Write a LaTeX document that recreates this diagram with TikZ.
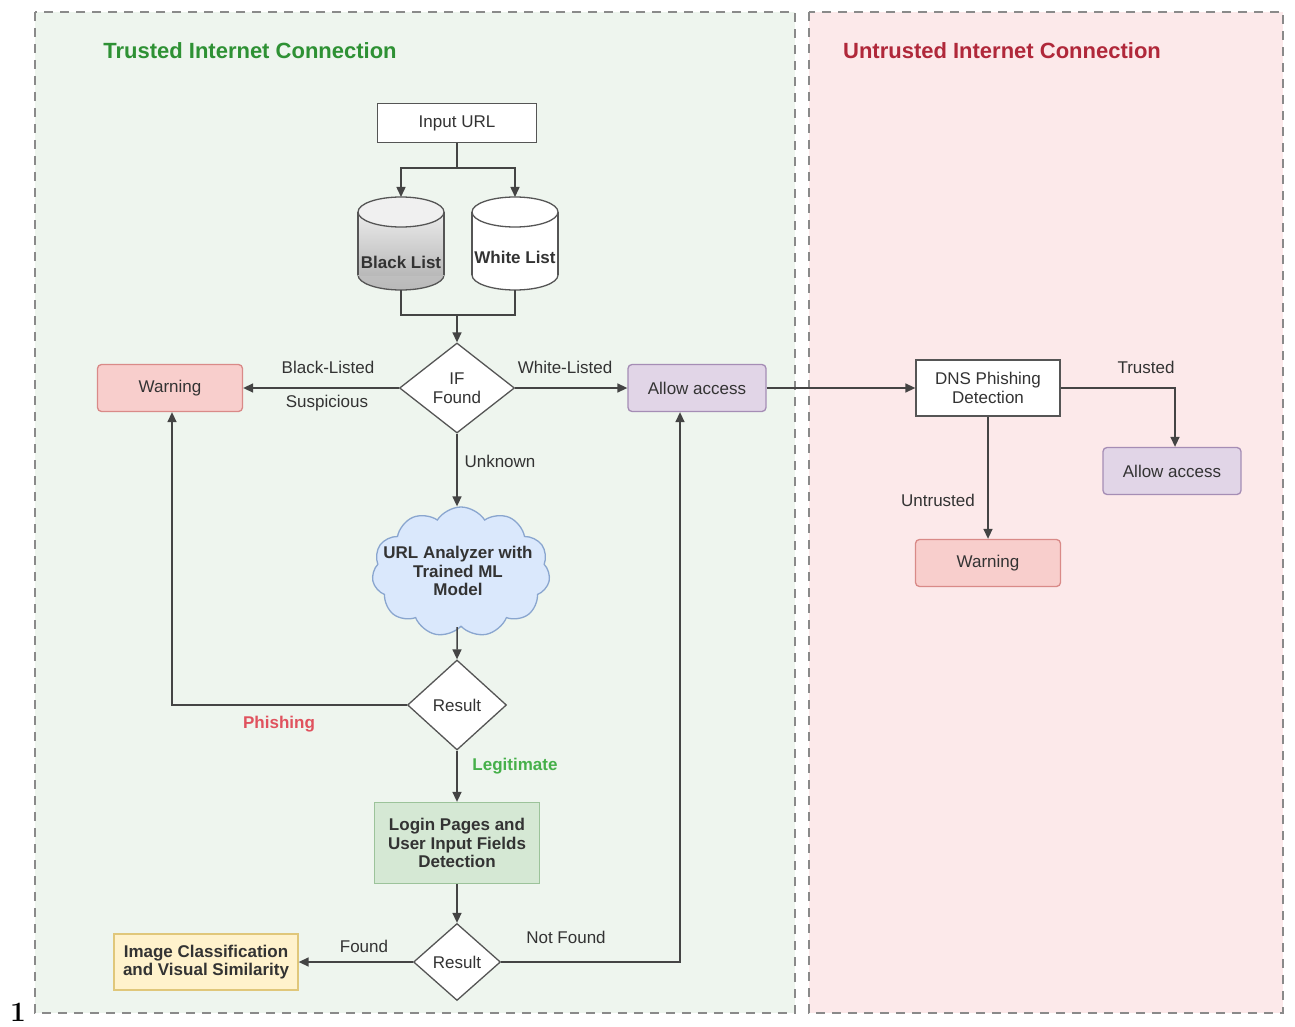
\documentclass[tikz,border=0pt]{standalone}
\usepackage{fontspec}
\newfontfamily\arialf{Liberation Sans}
\usetikzlibrary{arrows.meta,shapes.geometric,shapes.symbols}
\newcommand\nf{\arialf\fontsize{17}{18.5}\selectfont}
\definecolor{txt}{HTML}{333333}
\definecolor{ln}{HTML}{444444}
\definecolor{bd}{HTML}{555555}
\definecolor{greenbg}{HTML}{EEF5EE}
\definecolor{redbg}{HTML}{FCE9EA}
\definecolor{regbd}{HTML}{8A8A8A}
\definecolor{warnf}{HTML}{F8CECC}
\definecolor{warnb}{HTML}{D98A88}
\definecolor{aaf}{HTML}{E1D5E7}
\definecolor{aab}{HTML}{A58DB5}
\definecolor{logf}{HTML}{D5E8D4}
\definecolor{logb}{HTML}{9CC39A}
\definecolor{imgf}{HTML}{FFF2CC}
\definecolor{imgb}{HTML}{E0C77A}
\definecolor{cldf}{HTML}{DAE8FC}
\definecolor{cldb}{HTML}{8AA6CF}
\definecolor{tgreen}{HTML}{2E9134}
\definecolor{tred}{HTML}{B0283A}
\definecolor{phred}{HTML}{E0525E}
\definecolor{lggreen}{HTML}{46B04A}
\begin{document}
\begin{tikzpicture}[x=1pt,y=-1pt,
  every node/.style={font=\nf, text=txt},
  line/.style={draw=ln, line width=1.5pt},
  arr/.style={line, -{Triangle[length=10pt,width=9pt]}},
  region/.style={draw=regbd, line width=1.6pt, dash pattern=on 9pt off 7pt},
  whitebox/.style={draw=bd, line width=1.3pt, fill=white, align=center, inner sep=2pt},
  warnbox/.style={draw=warnb, line width=1.3pt, fill=warnf, rounded corners=4pt, align=center, minimum width=145, minimum height=47},
  aabox/.style={draw=aab, line width=1.3pt, fill=aaf, rounded corners=4pt, align=center, minimum width=138, minimum height=47},
  dia/.style={diamond, draw=bd, line width=1.3pt, fill=white, align=center, inner sep=0pt},
  lbl/.style={font=\nf, text=txt},
  cyl/.style={draw=bd, line width=1.3pt}
]
\useasboundingbox (0,0) rectangle (1295,1027);
\fill[white] (0,0) rectangle (1295,1027);
% regions
\draw[region, fill=greenbg] (35,12) rectangle (795,1013);
\draw[region, fill=redbg] (809,12) rectangle (1283,1013);
\node[font=\arialf\bfseries\fontsize{22}{24}\selectfont, text=tgreen] (t1) at (250,51) {Trusted Internet Connection};
\node[font=\arialf\bfseries\fontsize{22}{24}\selectfont, text=tred] (t2) at (1002,51) {Untrusted Internet Connection};

% input url
\node[whitebox, minimum width=159, minimum height=39] (url) at (457,123) {Input URL};

% black list cylinder
\fill[bottom color=gray!55, top color=gray!45] (401,275) ellipse[x radius=43, y radius=15];
\draw[cyl] (401,275) ellipse[x radius=43, y radius=15];
\shade[top color=gray!15, bottom color=gray!55] (358,212) rectangle (444,275);
\draw[cyl] (358,212) -- (358,275);
\draw[cyl] (444,212) -- (444,275);
\draw[cyl, fill=gray!12] (401,212) ellipse[x radius=43, y radius=15];
\coordinate (blT) at (401,197);
\coordinate (blB) at (401,290);
\node[font=\nf\bfseries] (bl) at (401,262) {Black List};

% white list cylinder
\fill[white] (515,275) ellipse[x radius=43, y radius=15];
\draw[cyl] (515,275) ellipse[x radius=43, y radius=15];
\fill[white] (472,212) rectangle (558,275);
\draw[cyl] (472,212) -- (472,275);
\draw[cyl] (558,212) -- (558,275);
\draw[cyl, fill=white] (515,212) ellipse[x radius=43, y radius=15];
\coordinate (wlT) at (515,197);
\coordinate (wlB) at (515,290);
\node[font=\nf\bfseries] (wl) at (515,257) {White List};

\draw[arr] (url.south) -- ++(0,25) -| (blT);
\draw[arr] (url.south) -- ++(0,25) -| (wlT);

% IF found
\node[dia, minimum width=115, minimum height=90] (iff) at (457,388) {IF\\Found};
\coordinate (mrg) at (457,315);
\draw[line] (blB) |- (mrg);
\draw[line] (wlB) |- (mrg);
\draw[arr] (mrg) -- (iff.north);

\node[warnbox] (w1) at (170,388) {Warning};
\node[aabox] (aa1) at (697,388) {Allow access};
\draw[arr] (iff.west) -- (w1.east);
\draw[arr] (iff.east) -- (aa1.west);
\node[lbl] (lbBL) at (328,367) {Black-Listed};
\node[lbl] (lbSU) at (327,403) {Suspicious};
\node[lbl] (lbWL) at (565,367) {White-Listed};

% untrusted side
\node[whitebox, minimum width=144, minimum height=56] (dns) at (988,388) {DNS Phishing\\Detection};
\node[aabox] (aa2) at (1172,471) {Allow access};
\node[warnbox] (w2) at (988,563) {Warning};
\draw[arr] (aa1.east) -- (dns.west);
\draw[arr] (dns.east) -| ([xshift=3pt]aa2.north);
\draw[arr] (dns.south) -- (w2.north);
\node[lbl] (lbTR) at (1146,367) {Trusted};
\node[lbl] (lbUT) at (938,500) {Untrusted};

% cloud
\node[cloud, cloud puffs=11, cloud puff arc=115, aspect=1.35, draw=cldb, line width=1.3pt, fill=cldf,
      minimum width=178, minimum height=130, inner sep=0pt] (cld) at (461,572) {};
\node[font=\nf\bfseries, align=center, text=txt] (cldtxt) at (458,571) {URL Analyzer with\\Trained ML\\Model};
\draw[arr] (iff.south) -- ([xshift=-4pt]cld.north);
\node[lbl] (lbUN) at (500,461) {Unknown};

% result 1
\node[dia, minimum width=99, minimum height=90] (r1) at (457,705) {Result};
\draw[arr] ([xshift=-4pt]cld.south) -- (r1.north);
\draw[arr] (r1.west) -| ([xshift=2pt]w1.south);
\node[font=\nf\bfseries, text=phred] (lbPH) at (279,724) {Phishing};

% login
\node[draw=logb, line width=1.3pt, fill=logf, minimum width=165, minimum height=81, align=center, font=\nf\bfseries] (login) at (457,843)
      {Login Pages and\\User Input Fields\\Detection};
\draw[arr] (r1.south) -- (login.north);
\node[font=\nf\bfseries, text=lggreen] (lbLG) at (515,766) {Legitimate};

% result 2
\node[dia, minimum width=87, minimum height=77] (r2) at (457,962) {Result};
\draw[arr] (login.south) -- (r2.north);
\node[draw=imgb, line width=1.3pt, fill=imgf, minimum width=184, minimum height=56, align=center, font=\nf\bfseries] (img) at (206,962)
      {Image Classification\\and Visual Similarity};
\draw[arr] (r2.west) -- (img.east);
\node[lbl] (lbFD) at (364,946) {Found};
\draw[arr] (r2.east) -| ([xshift=-17pt]aa1.south);
\node[lbl] (lbNF) at (566,937) {Not Found};

% page number
\node[font=\bfseries\fontsize{28}{30}\selectfont, text=black, anchor=base, inner sep=0pt] (num) at (18,1021) {1};
\end{tikzpicture}
\end{document}
